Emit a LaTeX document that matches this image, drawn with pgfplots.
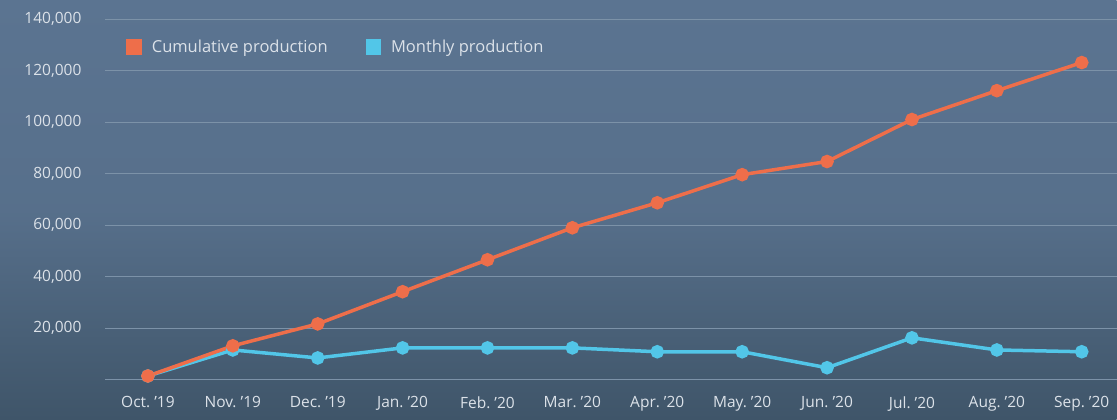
\documentclass[border=0pt]{standalone}
\usepackage{fontspec}
\setmainfont{Open Sans}
\usepackage{pgfplots}
\pgfplotsset{compat=1.18}
\definecolor{bgtop}{HTML}{5B7491}
\definecolor{bgbot}{HTML}{3F5569}
\definecolor{gridc}{HTML}{7C92A8}
\definecolor{txt}{HTML}{DCE2E9}
\definecolor{cumc}{HTML}{EE6E4A}
\definecolor{monc}{HTML}{52C6E8}
\begin{document}
\begin{tikzpicture}
\shade[top color=bgtop, bottom color=bgbot, middle color=bgtop!85!bgbot]
  (-105pt,-40pt) rectangle (1012pt,380pt);
\begin{axis}[
  scale only axis,
  width=1012pt, height=361pt,
  xmin=-0.506, xmax=11.41,
  ymin=0, ymax=140000,
  axis line style={draw=none},
  major tick length=0pt,
  xtick={0,...,11},
  xticklabels={Oct.\ ’19, Nov.\ ’19, Dec.\ ’19, Jan.\ ’20, Feb.\ ’20, Mar.\ ’20,
    Apr.\ ’20, May.\ ’20, Jun.\ ’20, Jul.\ ’20, Aug.\ ’20, Sep.\ ’20},
  ytick={0,20000,40000,60000,80000,100000,120000,140000},
  yticklabels={{},{20,000},{40,000},{60,000},{80,000},{100,000},{120,000},{140,000}},
  ymajorgrids,
  grid style={gridc, line width=0.9pt},
  scaled y ticks=false,
  tick label style={font=\fontsize{15.5}{18}\selectfont, text=txt},
  yticklabel style={anchor=east, xshift=-20pt},
  xticklabel style={yshift=-13pt},
  legend style={draw=none, fill=none, text=txt,
    font=\fontsize{16.5}{19}\selectfont,
    at={(0.018,0.922)}, anchor=west,
    /tikz/every even column/.append style={column sep=36pt}},
  legend columns=2,
  reverse legend,
  clip=false,
]
\addplot[monc, line width=3.5pt, mark=*, mark size=5pt,
  legend image code/.code={\fill[monc] (0pt,-6pt) rectangle (12pt,6pt); \path (20pt,0pt);}]
  coordinates {(0,1500) (1,11600) (2,8500) (3,12400) (4,12400) (5,12400)
    (6,10900) (7,10900) (8,4700) (9,16300) (10,11600) (11,10900)};
\addlegendentry{Monthly production}
\addplot[cumc, line width=3.5pt, mark=*, mark size=5pt,
  legend image code/.code={\fill[cumc] (0pt,-6pt) rectangle (12pt,6pt); \path (20pt,0pt);}]
  coordinates {(0,1500) (1,13200) (2,21700) (3,34200) (4,46600) (5,59000)
    (6,68700) (7,79600) (8,84700) (9,101000) (10,112200) (11,123100)};
\addlegendentry{Cumulative production}
\end{axis}
\end{tikzpicture}
\end{document}
